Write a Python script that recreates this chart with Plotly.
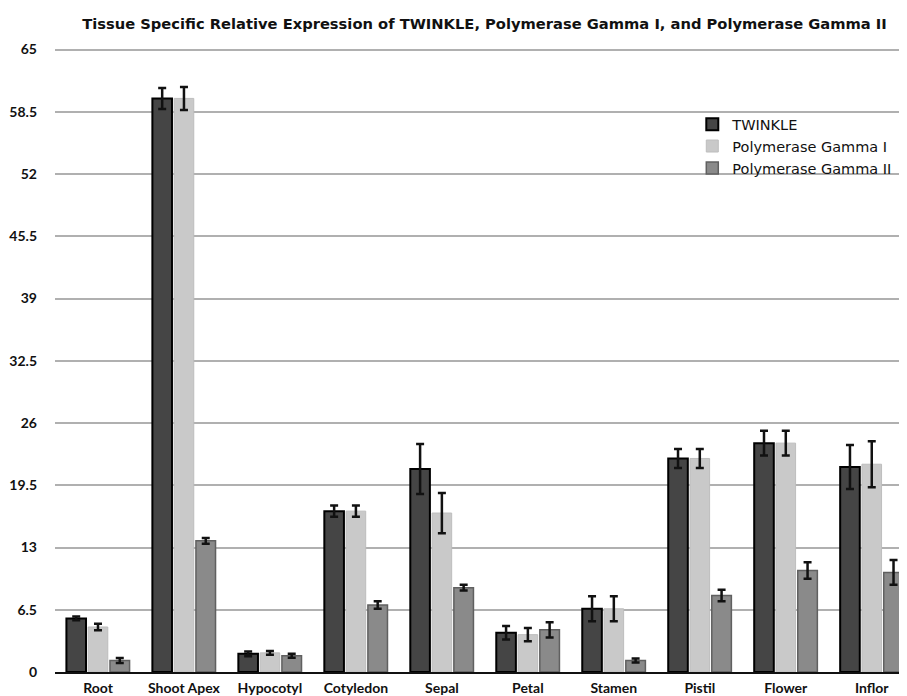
import plotly.graph_objects as go

categories = ["Root", "Shoot Apex", "Hypocotyl", "Cotyledon", "Sepal", "Petal", "Stamen", "Pistil", "Flower", "Inflor"]
twinkle = [5.6, 59.9, 1.9, 16.8, 21.2, 4.1, 6.6, 22.3, 23.9, 21.4]
twinkle_err = [0.2, 1.1, 0.25, 0.6, 2.6, 0.7, 1.3, 1.0, 1.3, 2.3]
pol1 = [4.7, 59.9, 2.0, 16.8, 16.6, 3.9, 6.6, 22.3, 23.9, 21.7]
pol1_err = [0.35, 1.2, 0.2, 0.6, 2.1, 0.7, 1.3, 1.0, 1.3, 2.4]
pol2 = [1.2, 13.7, 1.7, 7.0, 8.8, 4.4, 1.2, 8.0, 10.6, 10.4]
pol2_err = [0.25, 0.3, 0.2, 0.4, 0.3, 0.8, 0.2, 0.6, 0.85, 1.3]
tick_vals = [0, 6.5, 13, 19.5, 26, 32.5, 39, 45.5, 52, 58.5, 65]
tick_text = ["0", "6.5", "13", "19.5", "26", "32.5", "39", "45.5", "52", "58.5", "65"]

def err(vals):
    return dict(type="data", array=vals, visible=True, color="#111111", thickness=2.5, width=4)

fig = go.Figure()
fig.add_trace(go.Bar(x=categories, y=twinkle, name="TWINKLE", error_y=err(twinkle_err),
                     marker=dict(color="#454545", line=dict(color="#000000", width=2))))
fig.add_trace(go.Bar(x=categories, y=pol1, name="Polymerase Gamma I", error_y=err(pol1_err),
                     marker=dict(color="#c9c9c9", line=dict(color="#bdbdbd", width=1))))
fig.add_trace(go.Bar(x=categories, y=pol2, name="Polymerase Gamma II", error_y=err(pol2_err),
                     marker=dict(color="#8a8a8a", line=dict(color="#606060", width=1.5))))

fig.update_layout(
    width=899, height=688,
    paper_bgcolor="white", plot_bgcolor="white",
    margin=dict(l=47, r=0, t=32, b=24),
    barmode="group", bargap=0.24, bargroupgap=0.1,
    title=dict(text="<b>Tissue Specific Relative Expression of TWINKLE, Polymerase Gamma I, and Polymerase Gamma II</b>",
               x=0.530, xanchor="center", y=0.9767, yanchor="middle",
               font=dict(family="DejaVu Sans, sans-serif", size=14.7, color="#111111")),
    legend=dict(x=0.748, y=0.892, xanchor="left", yanchor="top", bgcolor="rgba(0,0,0,0)",
                font=dict(family="DejaVu Sans, sans-serif", size=14.5, color="#111111"),
                tracegroupgap=0, itemwidth=30),
    xaxis=dict(range=[-0.5, 9.41], showgrid=False, showline=True, linecolor="#111111", linewidth=2,
               ticks="", tickfont=dict(family="Lato, sans-serif", size=14, color="#111111", weight="bold"),
               automargin=False, ticklabelstandoff=2),
    yaxis=dict(range=[0, 66], tickvals=tick_vals, ticktext=tick_text, showgrid=True,
               gridcolor="#b0b0b0", gridwidth=2, zeroline=False, ticks="",
               tickfont=dict(family="Lato, sans-serif", size=14, color="#111111", weight="bold"),
               automargin=False, ticklabelstandoff=17,
               minor=dict(tickvals=[tick_vals[-1]], showgrid=True, gridcolor="#a8a8a8", gridwidth=2, ticks="")),
    showlegend=True,
)

fig.write_html("out.html")
